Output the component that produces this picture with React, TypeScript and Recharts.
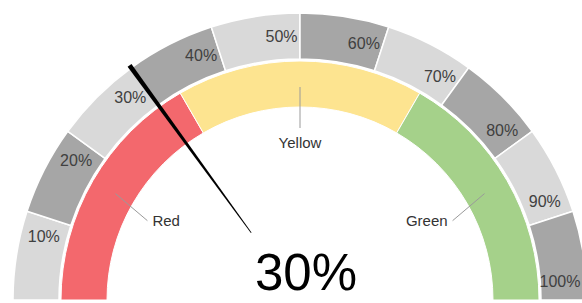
import React from 'react';
import { PieChart, Pie, Cell } from 'recharts';

const bandLabels = ['10%', '20%', '30%', '40%', '50%', '60%', '70%', '80%', '90%', '100%'];
const bandValues = [10, 10, 10, 10, 10, 10, 10, 10, 10, 10];
const bandColors = ['#d9d9d9', '#a6a6a6'];

const zoneNames = ['Red', 'Yellow', 'Green'];
const zoneValues = [33.3, 33.4, 33.3];
const zoneColors = ['#f3686d', '#fde490', '#a5d18a'];

const needleValue = 30;
const gaugeMax = 100;

const CX = 300;
const CY = 300;
const RADIAN = Math.PI / 180;
const FONT = 'Liberation Sans, Arial, sans-serif';

const bandData = bandLabels.map((name, i) => ({ name, value: bandValues[i] }));
const zoneData = zoneNames.map((name, i) => ({ name, value: zoneValues[i] }));
const needleData = [
  { name: 'value', value: needleValue },
  { name: 'rest', value: gaugeMax - needleValue },
];

const polar = (cx: number, cy: number, r: number, angle: number) => ({
  x: cx + r * Math.cos(-angle * RADIAN),
  y: cy + r * Math.sin(-angle * RADIAN),
});

const renderBandLabel = (props: any) => {
  const { cx, cy, midAngle, innerRadius, outerRadius, name } = props;
  const r = (innerRadius + outerRadius) / 2;
  const p = polar(cx, cy, r, midAngle - 5);
  // keep the last label inside the picture
  const x = Math.min(p.x, 560);
  return (
    <text
      x={x}
      y={p.y}
      fill="#404040"
      fontSize={16}
      textAnchor="middle"
      dominantBaseline="central"
      fontFamily={FONT}
    >
      {name}
    </text>
  );
};

const renderZoneLabel = (props: any) => {
  const { cx, cy, midAngle, name } = props;
  const shift = midAngle > 91 ? 2.5 : midAngle < 89 ? -2.5 : 0;
  const p1 = polar(cx, cy, 213, midAngle);
  const p2 = polar(cx, cy, 172, midAngle + shift);
  let tx = p2.x;
  let ty = p2.y;
  let anchor: 'start' | 'end' | 'middle' = 'middle';
  if (shift > 0) {
    tx += 5;
    anchor = 'start';
  } else if (shift < 0) {
    tx -= 5;
    anchor = 'end';
  } else {
    ty += 14;
  }
  return (
    <g>
      <polyline points={`${p1.x},${p1.y} ${p2.x},${p2.y}`} stroke="#9a9a9a" strokeWidth={1} fill="none" />
      <text
        x={tx}
        y={ty}
        fill="#333"
        fontSize={15}
        textAnchor={anchor}
        dominantBaseline="central"
        fontFamily={FONT}
      >
        {name}
      </text>
    </g>
  );
};

// needle drawn at the end of the first (invisible) sector
const renderNeedle = (props: any) => {
  const { cx, cy, endAngle, index } = props;
  if (index !== 0) return <g />;
  const angle = typeof endAngle === 'number' ? endAngle : 180 - (180 * needleValue) / gaugeMax;
  const inner = polar(cx, cy, 83, angle);
  const outer = polar(cx, cy, 290, angle);
  const nx = Math.cos((-angle + 90) * RADIAN);
  const ny = Math.sin((-angle + 90) * RADIAN);
  const wOut = 2.4;
  const wIn = 0.4;
  const pts = [
    [outer.x + nx * wOut, outer.y + ny * wOut],
    [outer.x - nx * wOut, outer.y - ny * wOut],
    [inner.x - nx * wIn, inner.y - ny * wIn],
    [inner.x + nx * wIn, inner.y + ny * wIn],
  ]
    .map((p) => p.join(','))
    .join(' ');
  return (
    <g>
      <polygon points={pts} fill="#000" />
      <text x={306} y={290} fontSize={51} textAnchor="middle" fill="#000" fontFamily={FONT}>
        {`${needleValue}%`}
      </text>
    </g>
  );
};

const App: React.FC = () => {
  return (
    <div style={{ position: 'absolute', left: 0, top: 0, background: '#fff' }}>
      <PieChart width={582} height={303} margin={{ top: 0, right: 0, bottom: 0, left: 0 }}>
        <Pie
          data={bandData}
          dataKey="value"
          nameKey="name"
          cx={CX}
          cy={CY}
          startAngle={180}
          endAngle={0}
          innerRadius={241}
          outerRadius={287}
          stroke="#fff"
          strokeWidth={1.5}
          label={renderBandLabel}
          labelLine={false}
          isAnimationActive={false}
        >
          {bandData.map((d, i) => (
            <Cell key={d.name} fill={bandColors[i % 2]} />
          ))}
        </Pie>
        <Pie
          data={zoneData}
          dataKey="value"
          nameKey="name"
          cx={CX}
          cy={CY}
          startAngle={180}
          endAngle={0}
          innerRadius={193}
          outerRadius={239}
          stroke="#fff"
          strokeWidth={1}
          label={renderZoneLabel}
          labelLine={false}
          isAnimationActive={false}
        >
          {zoneData.map((d, i) => (
            <Cell key={d.name} fill={zoneColors[i]} />
          ))}
        </Pie>
        <Pie
          data={needleData}
          dataKey="value"
          nameKey="name"
          cx={CX}
          cy={CY}
          startAngle={180}
          endAngle={0}
          innerRadius={0}
          outerRadius={1}
          fill="none"
          stroke="none"
          label={renderNeedle}
          labelLine={false}
          isAnimationActive={false}
        />
      </PieChart>
    </div>
  );
};

export default App;
